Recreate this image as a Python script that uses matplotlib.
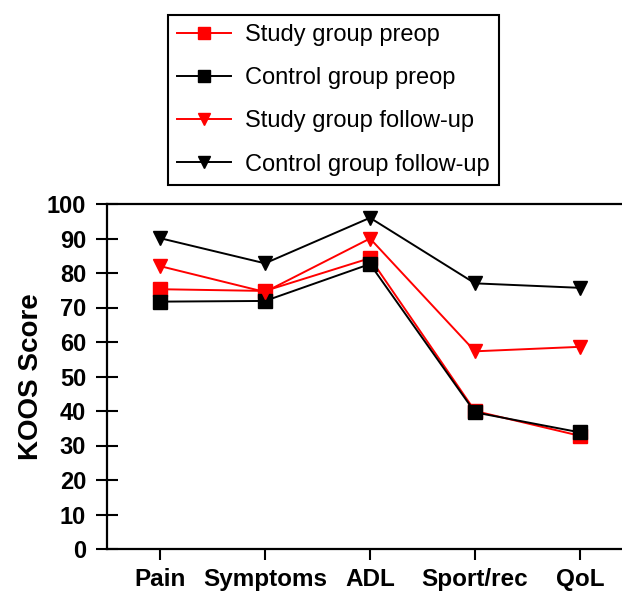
import matplotlib
matplotlib.use("Agg")
import matplotlib.pyplot as plt

categories = ["Pain", "Symptoms", "ADL", "Sport/rec", "QoL"]
study_preop = [75.3, 74.8, 84.3, 40.0, 32.8]
control_preop = [71.7, 71.9, 82.6, 39.6, 33.8]
study_followup = [82.0, 74.5, 90.0, 57.3, 58.6]
control_followup = [90.1, 82.8, 96.0, 77.0, 75.7]
yticks = [0, 10, 20, 30, 40, 50, 60, 70, 80, 90, 100]

plt.rcParams['font.family'] = ['Liberation Sans', 'DejaVu Sans']

fig = plt.figure(figsize=(6.22, 5.94), dpi=100)
ax = fig.add_axes([107/622, 1-549/594, 1-107/622, (549-204)/594])

x = list(range(len(categories)))
ms = 9.5
l1, = ax.plot(x, study_preop, color='#ff0000', marker='s', ms=ms, lw=1.4, label='Study group preop')
l2, = ax.plot(x, control_preop, color='black', marker='s', ms=ms, lw=1.4, label='Control group preop')
l3, = ax.plot(x, study_followup, color='#ff0000', marker='v', ms=ms, lw=1.4, label='Study group follow-up')
l4, = ax.plot(x, control_followup, color='black', marker='v', ms=ms, lw=1.4, label='Control group follow-up')

ax.set_xlim(-0.505, 4.40)
ax.set_ylim(0, 100)
ax.set_yticks(yticks)
ax.set_xticks(x)
ax.set_xticklabels(categories, fontsize=17.5, fontweight='bold')
ax.set_yticklabels([str(v) for v in yticks], fontsize=17, fontweight='bold')
ax.tick_params(axis='y', direction='inout', length=16, width=1.5, pad=7)
ax.tick_params(axis='x', direction='out', length=8, width=1.5, pad=6)
ax.set_ylabel("KOOS Score", fontsize=20, fontweight='bold', labelpad=2)

for s in ['left', 'bottom', 'top']:
    ax.spines[s].set_linewidth(1.6)
ax.spines['right'].set_visible(False)

leg = fig.legend(handles=[l1, l2, l3, l4], loc='upper left',
                 bbox_to_anchor=(168/622, 1-15/594), borderaxespad=0,
                 fontsize=17, frameon=True, fancybox=False, framealpha=1,
                 edgecolor='black', handlelength=2.3, handletextpad=0.6,
                 labelspacing=0.9, borderpad=0.38, markerscale=0.85)
leg.get_frame().set_linewidth(1.5)

fig.savefig("out.png", dpi=100)
